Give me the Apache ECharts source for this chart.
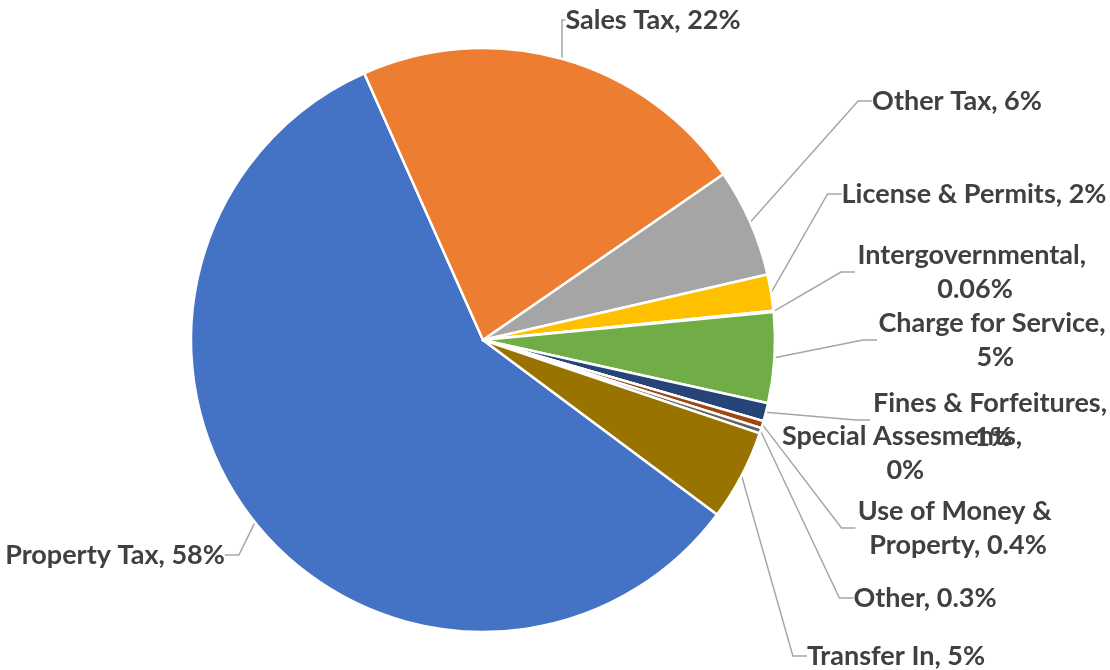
<!DOCTYPE html>
<html>
<head>
<meta charset="utf-8">
<script src="https://cdn.jsdelivr.net/npm/echarts@6/dist/echarts.min.js"></script>
<style>
  html, body { margin: 0; padding: 0; background: #fff; }
  #chart { width: 1110px; height: 670px; }
</style>
</head>
<body>
<div id="chart"></div>
<script>
var categories = ['Property Tax', 'Sales Tax', 'Other Tax', 'License & Permits', 'Intergovernmental',
    'Charge for Service', 'Fines & Forfeitures', 'Special Assesments', 'Use of Money & Property', 'Other', 'Transfer In'];
var values = [58, 22, 6, 2, 0.06, 5, 1, 0, 0.4, 0.3, 5];
var colors = ['#4472C4', '#ED7D31', '#A5A5A5', '#FFC000', '#5B9BD5', '#70AD47', '#264478', '#43682B', '#9E480E', '#636363', '#997300'];

// label centre positions, wrap width (Excel-like placement)
var labelPos = [
    [115, 555, 0], [653, 20, 0], [957, 101, 0], [974, 194, 0], [975, 272, 240],
    [992, 340, 230], [990, 420, 240], [902, 453, 245], [958, 528, 205], [925, 598, 0], [896, 656, 0]
];

var chart = echarts.init(document.getElementById('chart'));

var data = categories.map(function (name, i) {
    var item = {
        name: name,
        value: values[i],
        itemStyle: { color: colors[i] }
    };
    if (labelPos[i][2]) {
        item.label = { width: labelPos[i][2], overflow: 'break' };
    }
    if (name === 'Special Assesments') {
        item.labelLine = { show: false };
    }
    return item;
});

var option = {
    animation: false,
    series: [{
        type: 'pie',
        center: [483, 340],
        radius: 292,
        startAngle: 323.3,
        clockwise: true,
        avoidLabelOverlap: false,
        itemStyle: {
            borderColor: '#fff',
            borderWidth: 2.5
        },
        label: {
            show: true,
            position: 'outside',
            color: '#404040',
            fontFamily: 'Lato, sans-serif',
            fontWeight: 'bold',
            fontSize: 27,
            lineHeight: 34,
            align: 'center',
            formatter: function (p) {
                var v = p.value >= 1 ? Math.round(p.value) : p.value;
                return p.name + ', ' + v + '%';
            }
        },
        labelLine: {
            show: true,
            length: 10,
            length2: 14,
            lineStyle: { color: '#A6A6A6', width: 1.5 }
        },
        labelLayout: function (params) {
            var pos = labelPos[params.dataIndex];
            return {
                x: pos[0],
                y: pos[1],
                align: 'center',
                verticalAlign: 'middle'
            };
        },
        data: data
    }]
};

chart.setOption(option);
</script>
</body>
</html>
